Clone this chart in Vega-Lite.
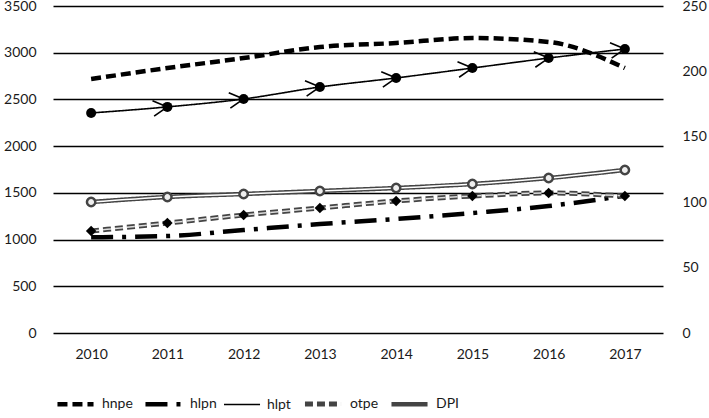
{
  "$schema": "https://vega.github.io/schema/vega-lite/v6.json",
  "width": 610,
  "height": 327,
  "autosize": {"type": "none"},
  "padding": {"left": 53, "top": 6, "right": 46, "bottom": 85},
  "background": "white",
  "config": {
    "view": {"stroke": null},
    "font": "Lato",
    "axis": {"labelFont": "Lato", "labelFontSize": 14, "labelColor": "#1a1a1a"},
    "legend": {
      "orient": "none", "legendX": 2, "legendY": 377, "direction": "horizontal",
      "symbolType": "stroke", "symbolSize": 1300, "labelFontSize": 14, "labelFont": "Lato",
      "labelColor": "#1a1a1a", "columnPadding": 3, "labelOffset": 6, "titlePadding": 0
    }
  },
  "data": {
    "values": [
      {"year": "2010", "series": "hnpe", "value": 2719},
      {"year": "2011", "series": "hnpe", "value": 2836},
      {"year": "2012", "series": "hnpe", "value": 2943},
      {"year": "2013", "series": "hnpe", "value": 3061},
      {"year": "2014", "series": "hnpe", "value": 3104},
      {"year": "2015", "series": "hnpe", "value": 3157},
      {"year": "2016", "series": "hnpe", "value": 3115},
      {"year": "2017", "series": "hnpe", "value": 2836},
      {"year": "2010", "series": "hlpn", "value": 1025},
      {"year": "2011", "series": "hlpn", "value": 1038},
      {"year": "2012", "series": "hlpn", "value": 1102},
      {"year": "2013", "series": "hlpn", "value": 1166},
      {"year": "2014", "series": "hlpn", "value": 1220},
      {"year": "2015", "series": "hlpn", "value": 1284},
      {"year": "2016", "series": "hlpn", "value": 1359},
      {"year": "2017", "series": "hlpn", "value": 1470},
      {"year": "2010", "series": "hlpt", "value": 2355},
      {"year": "2011", "series": "hlpt", "value": 2420},
      {"year": "2012", "series": "hlpt", "value": 2505},
      {"year": "2013", "series": "hlpt", "value": 2633},
      {"year": "2014", "series": "hlpt", "value": 2730},
      {"year": "2015", "series": "hlpt", "value": 2836},
      {"year": "2016", "series": "hlpt", "value": 2943},
      {"year": "2017", "series": "hlpt", "value": 3040},
      {"year": "2010", "series": "otpe", "value": 1092},
      {"year": "2011", "series": "otpe", "value": 1177},
      {"year": "2012", "series": "otpe", "value": 1263},
      {"year": "2013", "series": "otpe", "value": 1338},
      {"year": "2014", "series": "otpe", "value": 1413},
      {"year": "2015", "series": "otpe", "value": 1466},
      {"year": "2016", "series": "otpe", "value": 1498},
      {"year": "2017", "series": "otpe", "value": 1466},
      {"year": "2010", "series": "DPI", "value": 1402},
      {"year": "2011", "series": "DPI", "value": 1456},
      {"year": "2012", "series": "DPI", "value": 1488},
      {"year": "2013", "series": "DPI", "value": 1520},
      {"year": "2014", "series": "DPI", "value": 1552},
      {"year": "2015", "series": "DPI", "value": 1595},
      {"year": "2016", "series": "DPI", "value": 1659},
      {"year": "2017", "series": "DPI", "value": 1745}
    ]
  },
  "encoding": {
    "x": {
      "field": "year", "type": "ordinal",
      "scale": {"type": "point", "padding": 0.5},
      "axis": {"title": null, "labelAngle": 0, "ticks": false, "domain": false, "labelPadding": 14}
    },
    "y": {
      "field": "value", "type": "quantitative",
      "scale": {"domain": [0, 3500], "nice": false, "zero": true}
    }
  },
  "layer": [
    {
      "mark": {"type": "line", "interpolate": "monotone"},
      "encoding": {
        "y": {
          "field": "value", "type": "quantitative",
          "axis": {"title": null, "format": "d", "values": [0, 500, 1000, 1500, 2000, 2500, 3000, 3500], "grid": true, "gridColor": "#000", "gridWidth": 1.4, "ticks": false, "domain": false, "labelPadding": 17}
        },
        "strokeDash": {
          "field": "series", "type": "nominal", "title": null,
          "scale": {"type": "ordinal", "domain": ["hnpe", "hlpn", "hlpt", "otpe", "DPI"], "range": [[10, 5], [22, 9, 4, 9], [1, 0], [8, 4], [1, 0]]}
        },
        "strokeWidth": {
          "field": "series", "type": "nominal", "title": null,
          "scale": {"type": "ordinal", "domain": ["hnpe", "hlpn", "hlpt", "otpe", "DPI"], "range": [4.5, 4.5, 1.6, 5, 4.5]}
        },
        "color": {
          "field": "series", "type": "nominal", "title": null,
          "scale": {"type": "ordinal", "domain": ["hnpe", "hlpn", "hlpt", "otpe", "DPI"], "range": ["#000", "#000", "#000", "#444", "#444"]}
        }
      }
    },
    {
      "transform": [{"filter": "datum.series == 'otpe'"}],
      "mark": {"type": "line", "interpolate": "monotone", "color": "#ddd", "strokeWidth": 1.5, "strokeDash": [8, 4]},
      "encoding": {"y": {"field": "value", "type": "quantitative", "axis": null}}
    },
    {
      "transform": [{"filter": "datum.series == 'DPI'"}],
      "mark": {"type": "line", "interpolate": "monotone", "color": "#fff", "strokeWidth": 1.5},
      "encoding": {"y": {"field": "value", "type": "quantitative", "axis": null}}
    },
    {
      "transform": [{"filter": "datum.series == 'hlpt'"}],
      "mark": {"type": "point", "shape": "circle", "filled": true, "color": "#000", "size": 100, "opacity": 1},
      "encoding": {"y": {"field": "value", "type": "quantitative", "axis": null}}
    },
    {
      "transform": [{"filter": "datum.series == 'hlpt' && datum.year != '2010'"}],
      "mark": {"type": "point", "shape": "M-1,-0.55L0,0L-1,0.55", "filled": false, "stroke": "#000", "strokeWidth": 1.6, "size": 800, "angle": -6, "opacity": 1},
      "encoding": {"y": {"field": "value", "type": "quantitative", "axis": null}}
    },
    {
      "transform": [{"filter": "datum.series == 'otpe'"}],
      "mark": {"type": "point", "shape": "diamond", "filled": true, "color": "#000", "size": 110, "opacity": 1},
      "encoding": {"y": {"field": "value", "type": "quantitative", "axis": null}}
    },
    {
      "transform": [{"filter": "datum.series == 'DPI'"}],
      "mark": {"type": "point", "shape": "circle", "filled": true, "fill": "#eee", "stroke": "#444", "strokeWidth": 2.5, "size": 70, "opacity": 1},
      "encoding": {"y": {"field": "value", "type": "quantitative", "axis": null}}
    },
    {
      "mark": {"type": "point", "opacity": 0},
      "encoding": {
        "y": {
          "field": "value", "type": "quantitative",
          "axis": {"orient": "right", "title": null, "values": [0, 700, 1400, 2100, 2800, 3500], "labelExpr": "format(datum.value / 14, 'd')", "grid": false, "ticks": false, "domain": false, "labelPadding": 19}
        }
      }
    }
  ],
  "resolve": {"axis": {"y": "independent"}}
}
